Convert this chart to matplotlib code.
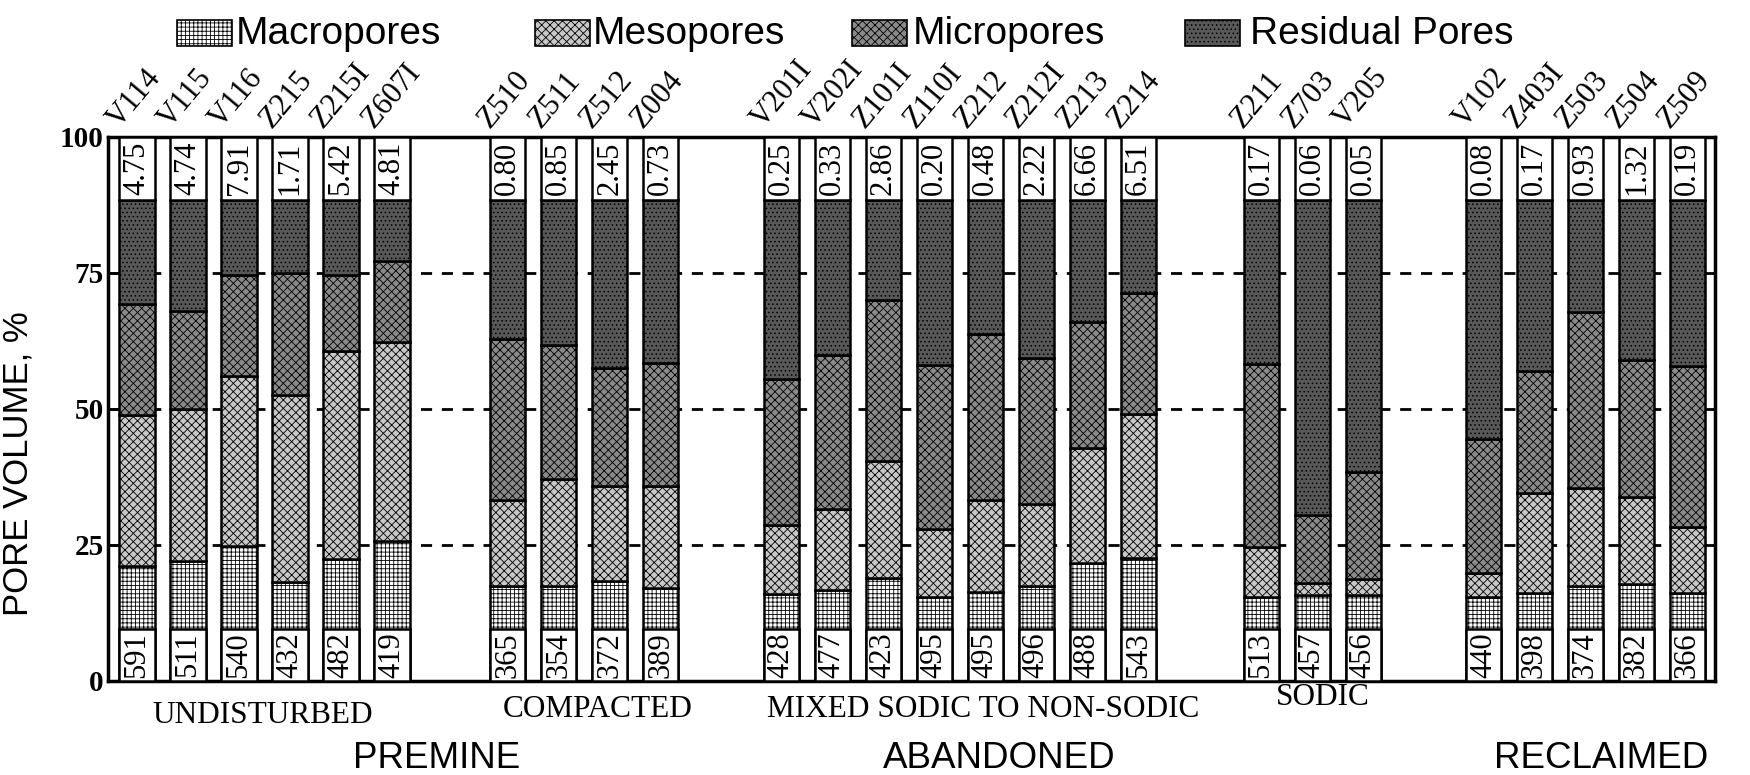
import matplotlib
matplotlib.use("Agg")
import matplotlib.pyplot as plt
from matplotlib.patches import Rectangle
import numpy as np

# ---------------- data ----------------
samples = ["V114", "V115", "V116", "Z215", "Z215I", "Z607I",
           "Z510", "Z511", "Z512", "Z004",
           "V201I", "V202I", "Z101I", "Z110I", "Z212", "Z212I", "Z213", "Z214",
           "Z211", "Z703", "V205",
           "V102", "Z403I", "Z503", "Z504", "Z509"]
group_sizes = [6, 4, 8, 3, 5]
subgroup_labels = ["UNDISTURBED", "COMPACTED", "MIXED SODIC TO NON-SODIC", "SODIC"]
main_labels = ["PREMINE", "ABANDONED", "RECLAIMED"]

macropores = [21.1, 22.1, 24.8, 18.2, 22.4, 25.7,
              17.4, 17.4, 18.4, 17.1,
              16.0, 16.8, 19.0, 15.4, 16.4, 17.4, 21.7, 22.6,
              15.5, 15.8, 15.8,
              15.5, 16.1, 17.4, 17.8, 16.1]
mesopores = [27.7, 27.9, 31.3, 34.3, 38.3, 36.7,
             15.8, 19.8, 17.5, 18.8,
             12.7, 14.8, 21.5, 12.6, 16.8, 15.2, 21.1, 26.5,
             9.2, 2.3, 3.0,
             4.4, 18.4, 18.1, 16.1, 12.2]
micropores = [20.5, 18.0, 18.5, 22.5, 13.9, 14.8,
              29.6, 24.6, 21.7, 22.6,
              26.9, 28.4, 29.5, 30.0, 30.5, 26.8, 23.2, 22.2,
              33.5, 12.5, 19.7,
              24.5, 22.4, 32.3, 25.1, 29.6]
residual = [19.2, 20.5, 13.9, 13.5, 13.9, 11.3,
            25.7, 26.7, 30.9, 30.0,
            32.9, 28.5, 18.5, 30.5, 24.8, 29.1, 22.5, 17.2,
            30.3, 57.9, 50.0,
            44.1, 31.6, 20.7, 29.5, 30.6]
top_values = ["4.75", "4.74", "7.91", "1.71", "5.42", "4.81",
              "0.80", "0.85", "2.45", "0.73",
              "0.25", "0.33", "2.86", "0.20", "0.48", "2.22", "6.66", "6.51",
              "0.17", "0.06", "0.05",
              "0.08", "0.17", "0.93", "1.32", "0.19"]
bottom_values = ["591", "511", "540", "432", "482", "419",
                 "365", "354", "372", "389",
                 "428", "477", "423", "495", "495", "496", "488", "543",
                 "513", "457", "456",
                 "440", "398", "374", "382", "366"]
series_names = ["Macropores", "Mesopores", "Micropores", "Residual Pores"]

# ---------------- layout ----------------
group_starts = [0.0, 7.27, 12.63, 22.04, 26.40]
x = np.concatenate([s + np.arange(n) for s, n in zip(group_starts, group_sizes)])
bar_w = 0.69

plt.rcParams["hatch.linewidth"] = 0.6
plt.rcParams["hatch.color"] = "black"
serif = "Liberation Serif"
sans = "Liberation Sans"

styles = [
    dict(facecolor="white", hatch="++++"),
    dict(facecolor="#c8c8c8", hatch="xxxx"),
    dict(facecolor="#8a8a8a", hatch="xxxx"),
    dict(facecolor="#585858", hatch="...."),
]

fig = plt.figure(figsize=(17.5, 7.75), dpi=100)
ax = fig.add_axes([0.0617, 0.1213, 0.9183, 0.702])

for yv in (25, 50, 75):
    ax.axhline(yv, color="black", lw=2.0, ls=(0, (4, 3.5)), zorder=0.5)

bottom = np.zeros(len(x))
for vals, st in zip([macropores, mesopores, micropores, residual], styles):
    vals = np.asarray(vals)
    ax.bar(x, vals, width=bar_w, bottom=bottom, edgecolor="black",
           linewidth=1.8, zorder=2, **st)
    bottom = bottom + vals

# white label boxes
ax.bar(x, 100 - bottom, width=bar_w, bottom=bottom, facecolor="white",
       edgecolor="black", linewidth=1.8, zorder=3)
ax.bar(x, 9.5, width=bar_w, bottom=0, facecolor="white",
       edgecolor="black", linewidth=1.8, zorder=3)

for xi, tv, bv, tot in zip(x, top_values, bottom_values, bottom):
    ax.text(xi, (tot + 100) / 2, tv, rotation=90, ha="center", va="center",
            fontsize=22, family=serif, zorder=4)
    ax.text(xi, 4.75, bv, rotation=90, ha="center", va="center",
            fontsize=22, family=serif, zorder=4)

for xi, name in zip(x, samples):
    ax.text(xi - 0.36, 101.5, name, rotation=50, rotation_mode="anchor",
            ha="left", va="baseline", fontsize=22, family=serif, clip_on=False)

ax.set_xlim(-0.57, 30.94)
ax.set_ylim(0, 100)
ax.set_xticks([])
ax.set_yticks([0, 25, 50, 75, 100])
ax.set_yticklabels(["0", "25", "50", "75", "100"], fontsize=21,
                   family=serif, fontweight="bold")
ax.tick_params(axis="y", direction="in", length=8, width=2, pad=3,
               right=True)
for sp in ax.spines.values():
    sp.set_linewidth(2.5)

ax.set_ylabel("PORE VOLUME, %", fontsize=25, family=sans)
ax.yaxis.set_label_coords(-0.046, 0.40)

# group labels
for lab, xc, yc in zip(subgroup_labels, [2.47, 9.04, 16.59, 23.25],
                       [-6.3, -5.3, -5.3, -3.1]):
    ax.text(xc, yc, lab, ha="center", va="center", fontsize=22.5,
            family=serif, clip_on=False)
for lab, xc in zip(main_labels, [5.88, 16.9, 28.7]):
    ax.text(xc, -14.2, lab, ha="center", va="center", fontsize=26.5,
            family=sans, clip_on=False)

# legend (manual)
W, H = 1750.0, 775.0
leg_patch_x = [177, 535, 852, 1185]
leg_text_x = [236, 593, 913, 1250]
for st, name, px, tx in zip(styles, series_names, leg_patch_x, leg_text_x):
    r = Rectangle((px / W, 1 - 46 / H), 55 / W, 26 / H, transform=fig.transFigure,
                  edgecolor="black", linewidth=1.2, **st)
    fig.add_artist(r)
    fig.text(tx / W, 1 - 34 / H, name, ha="left", va="center",
             fontsize=28, family=sans)

fig.savefig("out.png", dpi=100)
